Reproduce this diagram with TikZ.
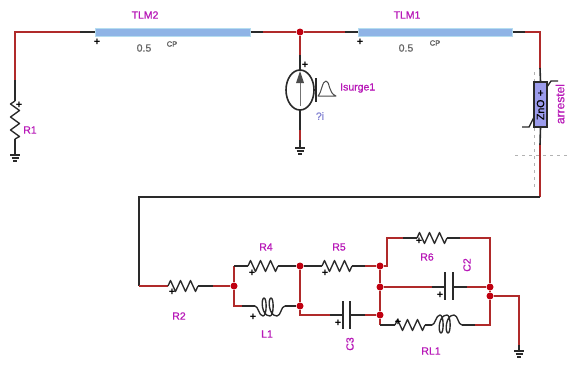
\documentclass[tikz,border=0pt]{standalone}
\usepackage{fontspec}
\usetikzlibrary{shapes.geometric}
\setmainfont{Liberation Sans}
\newfontfamily\heavy[FakeBold=0.7]{Liberation Sans}
\definecolor{wirered}{HTML}{B02A2A}
\definecolor{wireblk}{HTML}{2A2A2A}
\definecolor{junc}{HTML}{C00010}
\definecolor{lab}{HTML}{B818B8}
\definecolor{tlm}{HTML}{8FB4E6}
\definecolor{tlme}{HTML}{B5DDF0}
\definecolor{zno}{HTML}{9C9CEC}
\tikzset{
 rw/.style={draw=wirered,line width=1.5pt},
 bw/.style={draw=wireblk,line width=1.6pt},
 thinbk/.style={draw=wireblk,line width=1.35pt},
 lbl/.style={text=lab,font=\heavy\fontsize{10.5}{11}\selectfont,inner sep=0pt},
 val/.style={text=black!60,font=\heavy\fontsize{10.5}{11}\selectfont,inner sep=0pt},
 cp/.style={text=black!65,font=\heavy\fontsize{7.5}{8}\selectfont,inner sep=0pt},
 pm/.style={text=black,font=\bfseries\fontsize{11}{11}\selectfont,inner sep=0pt},
 dotj/.style={circle,fill=junc,inner sep=0pt,minimum size=7pt},
 tlmbox/.style={draw=tlme,fill=tlm,line width=1pt,minimum width=155pt,minimum height=8pt,inner sep=0pt},
 platec/.style={draw=wireblk,line width=1.6pt},
 pics/hres/.style={code={\draw[thinbk,line join=round] (0,0)--(2.5,-5.5)--(7.5,5.5)--(12.5,-5.5)--(17.5,5.5)--(22.5,-5.5)--(27.5,5.5)--(30,0);}},
 pics/vres/.style={code={\draw[thinbk,line join=round] (0,0)--(-4.5,3)--(4.5,9.5)--(-4.5,16)--(4.5,22.5)--(-4.5,29)--(4.5,35.5)--(0,38);}},
 pics/hind/.style={code={\draw[thinbk,line join=round] (0,0) .. controls (3,0) and (4,-10) .. (8,-10) .. controls (12,-10) and (12,8) .. (9,8) .. controls (6,8) and (6,-10) .. (15,-10) .. controls (19,-10) and (19,8) .. (16,8) .. controls (13,8) and (13,-10) .. (22,-10) .. controls (26,-10) and (26,0) .. (30,0);}},
 pics/gnd/.style={code={\draw[bw,line width=1.3pt] (-5,0)--(5,0) (-3.5,3)--(3.5,3) (-2,6)--(2,6);}}
}
\begin{document}
\begin{tikzpicture}[x=1pt,y=-1pt]
\useasboundingbox (0,0) rectangle (568,367);
\fill[white] (0,0) rectangle (568,367);
% guides
\coordinate (gv1) at (534,72); \coordinate (gv2) at (534,190);
\coordinate (gh1) at (515,155); \coordinate (gh2) at (568,155);
\draw[black!30,line width=.8pt,dash pattern=on 3pt off 4pt] (gv1)--(gv2) (gh1)--(gh2);
% terminals
\coordinate (cTL) at (15,32);
\coordinate (r1a) at (15,80); \coordinate (r1b) at (15,101); \coordinate (r1c) at (15,139); \coordinate (r1g) at (15,155);
\coordinate (t2a) at (80,32); \coordinate (t2b) at (263,32);
\coordinate (t1a) at (345,32); \coordinate (t1b) at (525,32);
\coordinate (cTR) at (540,32);
\coordinate (ar1) at (540,68); \coordinate (ar2) at (540,145); \coordinate (cBR) at (540,197);
\coordinate (cBL) at (139,197); \coordinate (cL) at (139,286);
\coordinate (r2a) at (168,286); \coordinate (r2b) at (198,286); \coordinate (r2c) at (213,286);
\coordinate (s1) at (300,55); \coordinate (s2) at (300,130); \coordinate (s3) at (300,140); \coordinate (sg) at (300,148);
\node[dotj] (jS) at (300,32) {};
\node[dotj] (j1) at (234,286) {};
\node[dotj] (j2) at (300,266) {};
\node[dotj] (j3) at (300,306) {};
\node[dotj] (j4) at (380,266) {};
\node[dotj] (j5) at (380,287) {};
\node[dotj] (j6) at (380,315) {};
\node[dotj] (j7) at (490,287) {};
\node[dotj] (j8) at (490,296) {};
% TLMs
\node[tlmbox] (tlm2) at (172.5,32) {};
\node[tlmbox,minimum width=154pt] (tlm1) at (435,32) {};
% wires top
\draw[rw] (r1a)--(cTL)--(t2a);
\draw[bw] (t2a)--(tlm2.west);
\draw[bw] (tlm2.east)--(t2b);
\draw[rw] (t2b)--(jS)--(t1a);
\draw[bw] (t1a)--(tlm1.west);
\draw[bw] (tlm1.east)--(t1b);
\draw[rw] (t1b)--(cTR)--(ar1);
\draw[bw] (r1a)--(r1b) (r1c)--(r1g);
\pic at (r1b) {vres};
\pic at (r1g) {gnd};
% source
\draw[rw] (jS)--(s1);
\draw[bw] (s1)--(300,70) (300,110)--(s2);
\draw[rw] (s2)--(s3);
\draw[bw] (s3)--(sg);
\pic at (sg) {gnd};
\node[draw=wireblk,line width=1.6pt,ellipse,minimum width=28pt,minimum height=40pt,inner sep=0pt] (src) at (300,90) {};
\draw[draw=black!55,line width=.9pt] (300,106)--(300,74);
\fill[black!70] (300,71)--(296,83)--(304,83)--cycle;
\draw[thinbk] (316,78)--(316,102);
\draw[draw=black!70,line width=1pt,fill=white,line join=round] (318,96) .. controls (322,92) and (322,81) .. (326,81) .. controls (330,81) and (328,93) .. (336,96)--cycle;
\node[pm] (ps) at (305,65) {+};
\node[lbl,anchor=west] (ls) at (340,88) {Isurge1};
\node[text=black!35!blue!50,font=\heavy\fontsize{10.5}{11}\selectfont,inner sep=0pt] (qi) at (320,116) {?i};
% arrester
\draw[thinbk] (522,127)--(529,127)--(536,113) (545,90)--(551,81)--(558,81);
\node[draw=wireblk,line width=1.2pt,fill=zno,minimum width=13pt,minimum height=45pt,inner sep=0pt] (arr) at (540.5,104.5) {};
\node[rotate=90,font=\heavy\fontsize{10.5}{11}\selectfont,inner sep=0pt] (znt) at (540.5,105) {ZnO\,\,+};
\draw[bw] (ar1)--(arr.north) (arr.south)--(ar2);
\draw[rw] (ar2)--(cBR);
\node[lbl,rotate=90,font=\heavy\fontsize{12}{12}\selectfont] (lar) at (560,104) {arrestel};
% bottom long wire
\draw[bw,line width=1.2pt] (cBR)--(cBL)--(cL);
\draw[rw] (cL)--(r2a);
\pic at (r2a) {hres};
\draw[bw] (r2b)--(r2c);
\draw[rw] (r2c)--(j1);
% R4 / L1 branch
\coordinate (r4a) at (248,266); \coordinate (r4b) at (278,266);
\coordinate (l1a) at (255,306); \coordinate (l1b) at (285,306);
\coordinate (p1) at (234,266); \coordinate (p2) at (234,306); \coordinate (p3) at (242,306);
\draw[rw] (p1)--(j1)--(p2)--(p3);
\draw[bw] (p1)--(r4a);
\pic at (r4a) {hres};
\draw[bw] (r4b)--(j2);
\draw[bw] (p3)--(l1a);
\pic[yscale=-1] at (l1a) {hind};
\draw[bw] (l1b)--(j3);
\draw[rw] (j2)--(j3);
% R5
\coordinate (r5a) at (322,266);\coordinate (r5b) at (352,266);\coordinate (r5c) at (365,266);
\draw[bw] (j2)--(r5a);
\pic at (r5a) {hres};
\draw[bw] (r5b)--(r5c);
\draw[rw] (r5c)--(j4);
% C3
\coordinate (c3a) at (300,315);\coordinate (c3b) at (330,315);\coordinate (c3c) at (343,315);\coordinate (c3d) at (350,315);\coordinate (c3e) at (365,315);
\draw[rw] (j3)--(c3a)--(c3b);
\draw[bw] (c3b)--(c3c) (c3d)--(c3e);
\draw[rw] (c3e)--(j6);
\draw[platec] (343,301)--(343,329) (350,301)--(350,329);
% right column
\draw[rw] (j4)--(j5)--(j6);
\coordinate (r6o) at (387,266);\coordinate (r6u) at (387,238);\coordinate (r6a) at (403,238);\coordinate (r6b) at (417,238);\coordinate (r6c) at (447,238);\coordinate (r6d) at (460,238);\coordinate (r6e) at (490,238);
\draw[rw] (j4)--(r6o)--(r6u)--(r6a);
\draw[bw] (r6a)--(r6b) (r6c)--(r6d);
\pic at (r6b) {hres};
\draw[rw] (r6d)--(r6e)--(j7);
% C2
\coordinate (c2a) at (432,287);\coordinate (c2b) at (445,287);\coordinate (c2c) at (453,287);\coordinate (c2d) at (467,287);
\draw[rw] (j5)--(c2a);
\draw[bw] (c2a)--(c2b) (c2c)--(c2d);
\draw[platec] (445,272)--(445,300) (453,272)--(453,300);
\draw[rw] (c2d)--(j7);
% RL1
\coordinate (b0) at (380,325);\coordinate (b1) at (395,325);\coordinate (b2) at (425,325);\coordinate (b3) at (432,325);\coordinate (b4) at (462,325);\coordinate (b5) at (475,325);\coordinate (b6) at (490,325);
\draw[rw] (j6)--(b0);
\draw[bw] (b0)--(b1);
\pic at (b1) {hres};
\draw[bw] (b2)--(b3);
\pic at (b3) {hind};
\draw[bw] (b4)--(b5);
\draw[rw] (b5)--(b6)--(j8)--(j7);
% ground right
\coordinate (g1) at (519,296);\coordinate (g2) at (519,345);\coordinate (g3) at (519,351);
\draw[rw] (j8)--(g1)--(g2);
\draw[bw] (g2)--(g3);
\pic at (g3) {gnd};
% labels
\node[lbl] (n1) at (145,15) {TLM2};
\node[lbl] (n2) at (407,15) {TLM1};
\node[val] (v2) at (144,48) {0.5};
\node[val] (v1) at (406,48) {0.5};
\node[cp] (c2t) at (172,44) {CP};
\node[cp] (c1t) at (435,43) {CP};
\node[lbl] (n3) at (30,130) {R1};
\node[lbl] (n4) at (179,316) {R2};
\node[lbl] (n5) at (266,247) {R4};
\node[lbl] (n6) at (339,247) {R5};
\node[lbl] (n7) at (267,334) {L1};
\node[lbl] (n8) at (427,257) {R6};
\node[lbl,rotate=90] (n9) at (467,265) {C2};
\node[lbl,rotate=90] (n10) at (350,344) {C3};
\node[lbl] (n11) at (431,351) {RL1};
% plus marks
\foreach \n/\x/\y in {a/97/42,b/360/42,c/19/105,d/172/292,e/252/273,f/253/317,g/325/273,h/338/323,i/419/241,j/440/295,k/398/322}
  \node[pm] (pl\n) at (\x,\y) {+};
\end{tikzpicture}
\end{document}
